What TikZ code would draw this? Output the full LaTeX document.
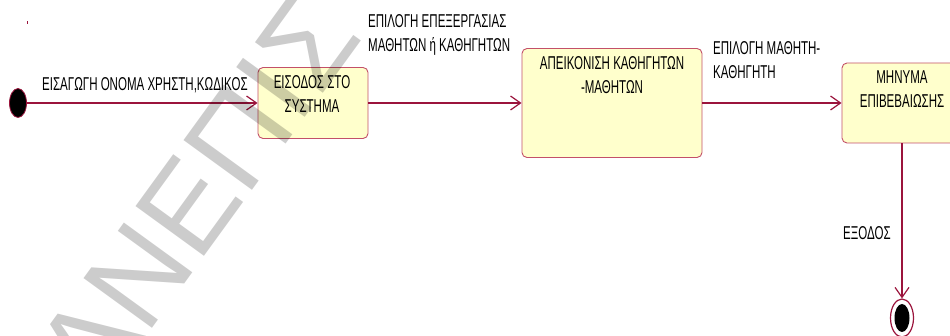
\documentclass[tikz,border=0pt]{standalone}
\usepackage{fontspec}
\setmainfont{Liberation Sans}
\newfontfamily\narrowsans[FakeStretch=0.62]{Liberation Sans}
\usetikzlibrary{arrows.meta,shapes.geometric}
\definecolor{wire}{RGB}{155,20,60}
\definecolor{stateedge}{RGB}{195,80,105}
\definecolor{statefill}{RGB}{255,255,204}
\definecolor{stamp}{RGB}{204,204,204}
\begin{document}
\begin{tikzpicture}[x=1pt,y=-1pt,
  state/.style={draw=stateedge, fill=statefill, line width=0.9pt,
    rounded corners=5pt, inner sep=0pt},
  caption/.style={font=\narrowsans\fontsize{18.6}{24}\selectfont,
    inner sep=0pt, text=black},
  flow/.style={draw=wire, line width=1.2pt,
    -{Straight Barb[length=10pt,width=14pt,line width=1.2pt]}},
  pseudo/.style={ellipse, inner sep=0pt},
]
\useasboundingbox (0,0) rectangle (950,336);
\clip (0,0) rectangle (950,336);

% stray pen mark
\fill[wire] (26.5,21) rectangle (27.7,24);

% states
\node[state, minimum width=110pt, minimum height=71pt] (b1) at (313,103) {};
\node[state, minimum width=180pt, minimum height=109pt] (b2) at (612,103) {};
\node[state, minimum width=120pt, minimum height=80pt] (b3) at (902,103) {};

\node[caption, align=center] (t1) at (312,94) {ΕΙΣΟΔΟΣ ΣΤΟ\\ΣΥΣΤΗΜΑ};
\node[caption, align=center] (t2) at (612,75) {ΑΠΕΙΚΟΝΙΣΗ ΚΑΘΗΓΗΤΩΝ\\-ΜΑΘΗΤΩΝ};
\node[caption, align=center] (t3) at (902,89) {ΜΗΝΥΜΑ\\ΕΠΙΒΕΒΑΙΩΣΗΣ};

% pseudo states
\node[pseudo, draw=wire, line width=0.8pt, fill=black,
  minimum width=17pt, minimum height=29pt] (init) at (18,103) {};
\node[pseudo, draw=wire, line width=1.2pt, fill=white,
  minimum width=23pt, minimum height=38pt] (fin) at (902,318) {};
\node[pseudo, fill=black, minimum width=15pt, minimum height=28pt] (fincore) at (fin.center) {};

% transitions
\draw[flow] (init) -- (b1);
\draw[flow] (b1) -- (b2);
\draw[flow] (b2) -- (b3);
\draw[flow] (b3) -- (fin);

% transition labels
\node[caption, anchor=west] (l1) at (42,85) {ΕΙΣΑΓΩΓΗ ΟΝΟΜΑ ΧΡΗΣΤΗ,ΚΩΔΙΚΟΣ};
\node[caption, anchor=west, align=left] (l2) at (368,35) {ΕΠΙΛΟΓΗ ΕΠΕΞΕΡΓΑΣΙΑΣ\\ΜΑΘΗΤΩΝ ή ΚΑΘΗΓΗΤΩΝ};
\node[caption, anchor=west, align=left] (l3) at (713,60) {ΕΠΙΛΟΓΗ ΜΑΘΗΤΗ-\\ΚΑΘΗΓΗΤΗ};
\node[caption, anchor=west] (l4) at (843,233) {ΕΞΟΔΟΣ};

% diagonal stamp across the sheet
\begin{scope}[blend mode=multiply]
\node[anchor=base west, inner sep=0pt, rotate=54, text=stamp,
  font=\fontsize{123}{123}\selectfont] (stampword) at (98,403) {ΑΝΕΠΙΣ};
\end{scope}
\end{tikzpicture}
\end{document}
